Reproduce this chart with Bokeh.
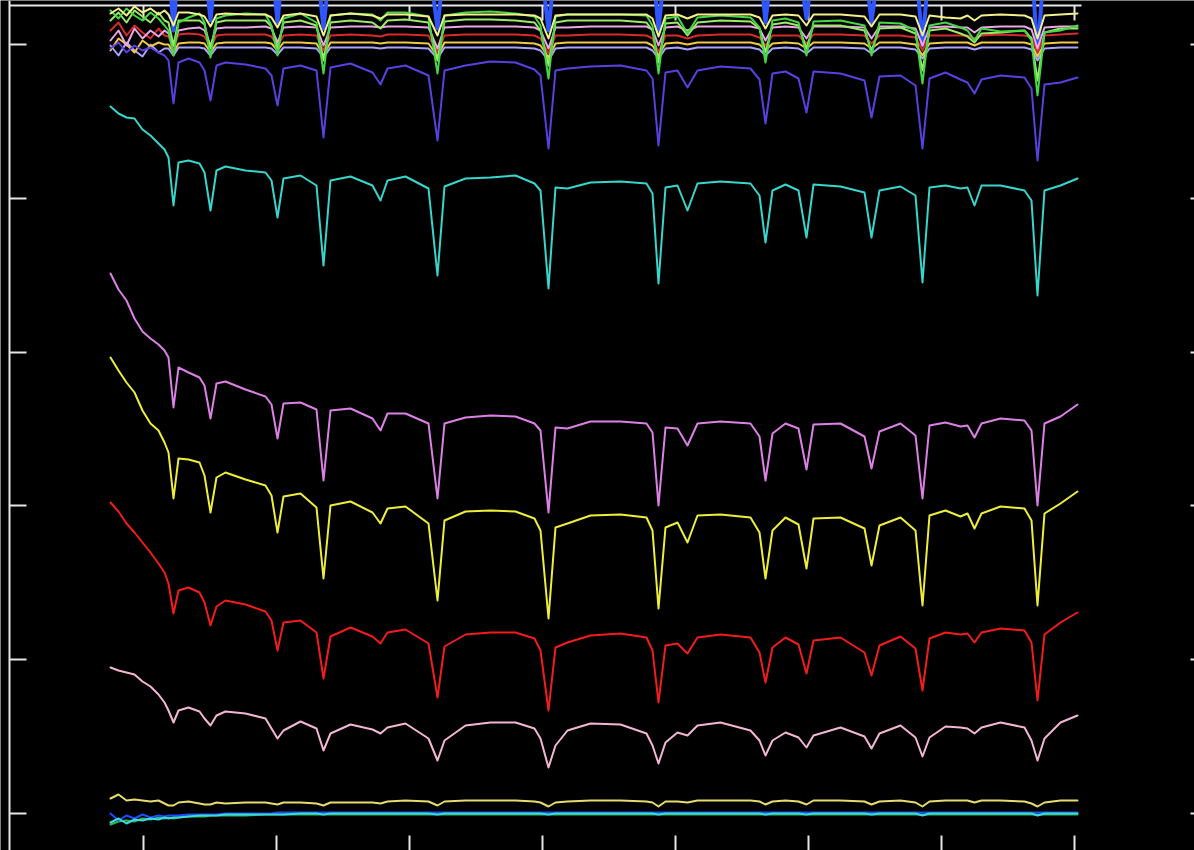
import math
from bokeh.plotting import figure
from bokeh.models import Range1d, Span
from bokeh.embed import file_html
from bokeh.resources import INLINE

# ---------------- data ----------------
wavelength = [100, 108, 116, 124, 132, 140, 148, 154, 158, 163,
              168, 178, 189, 194, 200, 206, 215, 235, 255, 261,
              267, 273, 290, 306, 313, 320, 340, 362, 370, 377,
              395, 418, 427, 434, 455, 480, 505, 524, 530, 538,
              545, 557, 580, 610, 636, 642, 648, 655, 667, 677,
              687, 710, 740, 749, 755, 762, 775, 788, 796, 803,
              830, 854, 861, 869, 890, 905, 912, 919, 935, 950,
              957, 964, 971, 990, 1014, 1021, 1027, 1034, 1050, 1067]

x_ticks = [133, 266, 399, 532, 665, 798, 931, 1064]
y_ticks = [0, 154, 308, 461, 615, 769]

flux_orchid = [540, 524, 513, 495, 482, 475, 469, 463, 456, 406,
               446, 441, 436, 428, 395, 430, 432, 424, 417, 409,
               375, 410, 411, 404, 333, 403, 405, 395, 383, 400,
               400, 390, 315, 390, 396, 398, 397, 390, 383, 301,
               386, 385, 392, 392, 390, 381, 308, 386, 385, 368,
               390, 392, 390, 377, 333, 380, 390, 385, 344, 389,
               390, 377, 345, 382, 390, 378, 315, 388, 391, 387,
               388, 376, 390, 395, 393, 383, 308, 390, 397, 409]

flux_yellow = [456, 443, 431, 421, 403, 390, 383, 371, 361, 315,
               355, 354, 351, 338, 301, 336, 341, 334, 328, 318,
               281, 317, 320, 306, 235, 308, 312, 301, 290, 305,
               307, 290, 213, 293, 302, 303, 302, 295, 283, 195,
               286, 290, 298, 299, 296, 283, 205, 286, 291, 271,
               298, 299, 296, 281, 235, 283, 296, 289, 245, 295,
               296, 285, 248, 288, 296, 283, 208, 298, 303, 297,
               300, 285, 300, 307, 305, 293, 208, 300, 310, 322]

flux_red = [311, 302, 290, 281, 271, 261, 250, 241, 230, 200,
            223, 226, 221, 211, 188, 207, 213, 209, 202, 193,
            163, 191, 193, 181, 135, 177, 186, 177, 170, 181,
            184, 170, 116, 167, 179, 181, 181, 175, 163, 103,
            166, 171, 178, 180, 176, 163, 111, 168, 170, 160,
            176, 179, 176, 161, 131, 166, 176, 169, 140, 173,
            176, 161, 138, 168, 177, 165, 123, 175, 181, 179,
            180, 171, 181, 185, 183, 171, 113, 179, 191, 201]

flux_pink = [146, 143, 141, 139, 132, 127, 119, 111, 103, 91,
             103, 106, 102, 95, 88, 98, 102, 100, 95, 85,
             75, 83, 92, 85, 63, 80, 89, 84, 80, 86,
             90, 75, 53, 73, 88, 91, 91, 85, 75, 46,
             68, 83, 90, 89, 80, 68, 50, 71, 81, 78,
             88, 91, 83, 73, 58, 73, 81, 76, 66, 78,
             86, 77, 65, 80, 88, 76, 57, 76, 87, 86,
             85, 80, 86, 91, 86, 73, 53, 75, 91, 98]

flux_cyan = [707, 700, 696, 695, 684, 678, 670, 664, 656, 608,
             651, 653, 650, 641, 603, 643, 647, 643, 641, 633,
             596, 635, 638, 628, 548, 633, 637, 628, 613, 633,
             637, 625, 538, 627, 635, 636, 638, 630, 623, 525,
             626, 625, 631, 632, 630, 620, 530, 626, 628, 603,
             630, 632, 630, 618, 571, 623, 629, 623, 576, 629,
             627, 621, 576, 623, 627, 618, 531, 626, 628, 625,
             626, 608, 628, 628, 623, 613, 518, 623, 628, 635]

flux_violet = [765, 771, 761, 768, 763, 766, 761, 758, 753, 710,
               751, 755, 751, 743, 713, 748, 751, 749, 745, 738,
               708, 745, 748, 743, 676, 746, 750, 741, 729, 745,
               748, 738, 673, 743, 748, 752, 751, 744, 738, 665,
               743, 745, 747, 748, 743, 735, 668, 741, 743, 726,
               743, 747, 745, 734, 690, 740, 742, 735, 701, 742,
               740, 733, 696, 737, 738, 728, 665, 735, 741, 734,
               731, 720, 734, 738, 736, 725, 653, 729, 731, 736]

flux_pale = [15, 19, 13, 14, 13, 12, 13, 10, 8, 8,
             11, 12, 10, 9, 9, 11, 10, 11, 11, 10,
             9, 11, 11, 10, 8, 11, 11, 11, 10, 12,
             13, 12, 8, 12, 13, 13, 13, 12, 11, 7,
             11, 12, 13, 13, 12, 11, 7, 12, 12, 11,
             13, 13, 13, 12, 9, 12, 13, 12, 9, 13,
             13, 12, 9, 12, 13, 11, 7, 12, 13, 13,
             13, 11, 13, 13, 12, 10, 7, 11, 13, 13]

flux_low_blue = [0, -7, -2, -5, -1, -4, -2, -3, -2, -2,
                 -2, -1, -1, -1, -1, -1, 0, 0, 0, 0,
                 1, 1, 1, 1, 1, 1, 1, 1, 1, 1,
                 1, 1, 1, 1, 1, 1, 1, 1, 1, 1,
                 1, 1, 1, 1, 1, 1, 1, 1, 1, 1,
                 1, 1, 1, 1, 1, 1, 1, 1, 1, 1,
                 1, 1, 1, 1, 1, 1, 1, 1, 1, 1,
                 1, 1, 1, 1, 1, 1, 1, 1, 1, 1]

flux_low_cyan = [-9, -5, -10, -6, -7, -5, -6, -4, -5, -4,
                 -4, -3, -2, -2, -2, -2, -1, -1, -1, -1,
                 -1, -1, 0, 0, -1, 0, 0, 0, 0, 0,
                 0, 0, -1, 0, 0, 0, 0, 0, 0, -1,
                 0, 0, 0, 0, 0, 0, -1, 0, 0, 0,
                 0, 0, 0, 0, -1, 0, 0, 0, -1, 0,
                 0, 0, -1, 0, 0, 0, -2, 0, 0, 0,
                 0, 0, 0, 0, 0, 0, -2, 0, 0, 0]

flux_low_green = [-11, -8, -7, -8, -5, -6, -4, -5, -4, -5,
                  -4, -3, -3, -3, -2, -2, -2, -2, -1, -1,
                  -1, -1, -1, -1, -1, -1, -1, -1, -1, -1,
                  -1, -1, -1, -1, -1, -1, -1, -1, -1, -1,
                  -1, -1, -1, -1, -1, -1, -1, -1, -1, -1,
                  -1, -1, -1, -1, -1, -1, -1, -1, -1, -1,
                  -1, -1, -1, -1, -1, -1, -1, -1, -1, -1,
                  -1, -1, -1, -1, -1, -1, -1, -1, -1, -1]

flux_top_yellow = [800, 805, 798, 807, 801, 805, 799, 803, 799, 788,
                   801, 801, 799, 797, 787, 799, 800, 799, 799, 796,
                   786, 798, 800, 797, 778, 798, 800, 798, 795, 799,
                   799, 797, 778, 798, 799, 799, 799, 798, 795, 775,
                   798, 799, 799, 799, 799, 795, 777, 798, 799, 795,
                   799, 799, 799, 796, 785, 798, 799, 798, 788, 799,
                   799, 797, 787, 799, 799, 797, 778, 798, 796, 795,
                   798, 793, 798, 799, 798, 795, 775, 798, 799, 800]

flux_top_green = [803, 795, 805, 798, 793, 801, 795, 788, 783, 758,
                  791, 796, 800, 791, 756, 795, 798, 800, 799, 788,
                  758, 795, 800, 791, 740, 798, 800, 799, 793, 801,
                  801, 797, 740, 798, 801, 802, 800, 797, 788, 735,
                  797, 799, 799, 799, 798, 788, 740, 795, 797, 780,
                  796, 798, 796, 786, 751, 793, 795, 791, 758, 792,
                  793, 788, 758, 791, 790, 783, 730, 788, 791, 786,
                  783, 773, 785, 782, 783, 773, 718, 781, 783, 788]

flux_top_lime = [793, 801, 791, 803, 797, 791, 801, 793, 791, 768,
                 793, 793, 793, 789, 765, 791, 793, 793, 793, 787,
                 765, 791, 793, 788, 753, 791, 793, 791, 785, 793,
                 794, 791, 753, 792, 794, 794, 793, 791, 783, 748,
                 791, 793, 793, 793, 791, 783, 751, 790, 791, 778,
                 791, 793, 792, 785, 761, 789, 791, 788, 765, 788,
                 788, 783, 763, 785, 786, 780, 743, 783, 785, 780,
                 777, 771, 780, 781, 783, 775, 733, 781, 785, 785]

flux_top_pink = [773, 783, 768, 785, 775, 783, 777, 783, 780, 768,
                 783, 785, 786, 783, 768, 785, 786, 786, 787, 785,
                 771, 786, 787, 786, 768, 786, 787, 787, 786, 787,
                 787, 786, 765, 786, 787, 787, 787, 786, 783, 765,
                 786, 786, 787, 787, 787, 784, 768, 786, 787, 783,
                 787, 787, 787, 785, 773, 786, 787, 786, 775, 787,
                 787, 786, 775, 787, 787, 785, 768, 786, 787, 786,
                 786, 781, 786, 787, 787, 784, 765, 786, 787, 787]

flux_top_red = [783, 791, 778, 788, 781, 775, 785, 778, 777, 765,
                779, 780, 779, 777, 766, 778, 779, 779, 779, 777,
                767, 778, 779, 778, 763, 778, 779, 778, 777, 779,
                779, 778, 761, 778, 779, 779, 779, 778, 775, 760,
                778, 778, 779, 779, 778, 775, 761, 778, 778, 775,
                778, 779, 779, 776, 768, 778, 778, 778, 770, 779,
                779, 778, 770, 778, 778, 776, 763, 778, 778, 778,
                778, 775, 778, 779, 778, 776, 761, 778, 779, 780]

flux_top_orange = [763, 775, 769, 761, 773, 767, 771, 769, 769, 761,
                   770, 771, 771, 770, 761, 770, 771, 771, 771, 770,
                   763, 771, 771, 770, 758, 771, 771, 771, 770, 771,
                   771, 770, 757, 771, 771, 771, 771, 770, 768, 756,
                   770, 771, 771, 771, 771, 768, 758, 770, 771, 769,
                   771, 771, 771, 769, 763, 770, 771, 770, 765, 771,
                   771, 770, 765, 771, 771, 769, 758, 770, 771, 771,
                   771, 768, 771, 771, 771, 769, 757, 770, 771, 771]

flux_top_lavender = [768, 758, 771, 763, 757, 769, 761, 765, 765, 758,
                     766, 766, 766, 765, 758, 766, 766, 766, 766, 765,
                     759, 766, 766, 765, 756, 766, 766, 766, 765, 766,
                     766, 765, 755, 766, 766, 766, 766, 765, 763, 753,
                     765, 766, 766, 766, 766, 763, 755, 765, 766, 764,
                     766, 766, 766, 764, 758, 765, 766, 765, 760, 766,
                     766, 765, 760, 766, 766, 764, 755, 765, 766, 766,
                     766, 764, 766, 766, 766, 764, 753, 765, 766, 766]

flux_top_blue = [853, 853, 853, 853, 853, 853, 853, 853, 853, 783,
                 853, 853, 853, 853, 793, 853, 853, 853, 853, 853,
                 791, 853, 853, 853, 785, 853, 853, 853, 853, 853,
                 853, 853, 785, 853, 853, 853, 853, 853, 853, 783,
                 853, 853, 853, 853, 853, 853, 783, 853, 853, 853,
                 853, 853, 853, 853, 791, 853, 853, 853, 795, 853,
                 853, 853, 791, 853, 853, 853, 768, 853, 853, 853,
                 853, 853, 853, 853, 853, 853, 758, 853, 853, 853]

series = [
    (flux_top_blue, "#2f55ff", 4.0),
    (flux_top_lavender, "#aaa4ff", 2.0),
    (flux_top_orange, "#f0c84a", 2.0),
    (flux_top_red, "#d82a2a", 2.0),
    (flux_top_pink, "#eba6e6", 2.0),
    (flux_top_lime, "#9be86a", 2.0),
    (flux_top_green, "#45d845", 2.0),
    (flux_top_yellow, "#f2f08a", 2.0),
    (flux_violet, "#5b3fe0", 2.0),
    (flux_cyan, "#36d6cc", 2.0),
    (flux_orchid, "#dd80e6", 2.0),
    (flux_yellow, "#eeee3a", 2.0),
    (flux_red, "#f21c1c", 2.0),
    (flux_pink, "#f2b6d4", 2.0),
    (flux_pale, "#e6dc6e", 2.0),
    (flux_low_green, "#2db84a", 2.0),
    (flux_low_blue, "#1e4dff", 2.0),
    (flux_low_cyan, "#3ed8e0", 2.0),
]

# frame geometry (data units)
x_lo, x_hi = -10, 1184
y_lo, y_hi = -37, 813
frame_left = -1
frame_top = 808
top_line_end = 1071
frame_color = "#e6e6e6"

# ---------------- figure ----------------
p = figure(width=1194, height=850,
           x_range=Range1d(x_lo, x_hi), y_range=Range1d(y_lo, y_hi),
           output_backend="svg", toolbar_location=None,
           x_axis_location=None, y_axis_location=None,
           background_fill_color="black", border_fill_color="black",
           outline_line_color=None, min_border=0)
p.grid.grid_line_color = None

# frame: left line and (partial) top line
p.add_layout(Span(location=frame_left, dimension="height",
                  line_color=frame_color, line_width=2))
p.segment(x0=[frame_left], y0=[frame_top], x1=[top_line_end], y1=[frame_top],
          line_color=frame_color, line_width=2)

# inward tick marks
p.ray(x=[frame_left] * len(y_ticks), y=y_ticks, length=17, length_units="screen",
      angle=0, line_color=frame_color, line_width=2)
p.ray(x=[x_hi] * len(y_ticks), y=y_ticks, length=4, length_units="screen",
      angle=math.pi, line_color=frame_color, line_width=2)
p.ray(x=x_ticks, y=[frame_top] * len(x_ticks), length=15, length_units="screen",
      angle=-math.pi / 2, line_color=frame_color, line_width=2)
p.ray(x=x_ticks, y=[y_lo] * len(x_ticks), length=15, length_units="screen",
      angle=math.pi / 2, line_color=frame_color, line_width=2)

for flux, color, lw in series:
    p.line(wavelength, flux, line_color=color, line_width=lw,
           line_join="round", line_cap="round")

open("out.html", "w").write(file_html(p, INLINE))
